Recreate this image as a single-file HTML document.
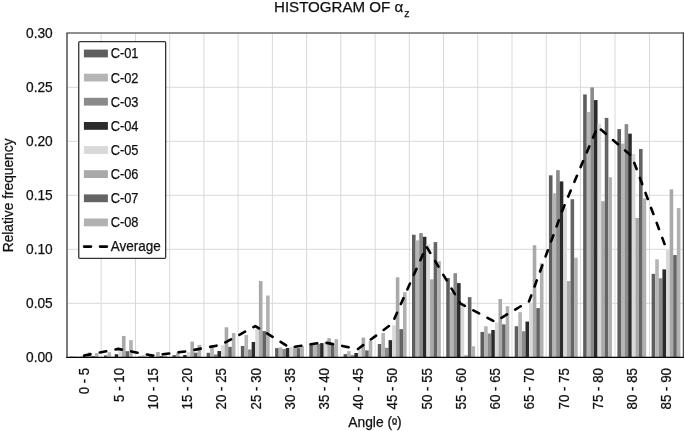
<!DOCTYPE html>
<html><head><meta charset="utf-8"><title>Histogram of alpha z</title>
<style>html,body{margin:0;padding:0;background:#fff}body{width:685px;height:431px;overflow:hidden}svg{display:block}text{font-family:"Liberation Sans",sans-serif;fill:#111;stroke:#111;stroke-width:0.25px}</style></head><body>
<svg width="685" height="431" viewBox="0 0 685 431">
<rect width="685" height="431" fill="#fff"/>
<g stroke="#d9d9d9" stroke-width="1" fill="none">
<line x1="67.0" y1="87.3" x2="683.1" y2="87.3"/>
<line x1="67.0" y1="141.3" x2="683.1" y2="141.3"/>
<line x1="67.0" y1="195.3" x2="683.1" y2="195.3"/>
<line x1="67.0" y1="249.3" x2="683.1" y2="249.3"/>
<line x1="67.0" y1="303.3" x2="683.1" y2="303.3"/>
<line x1="101.2" y1="33.0" x2="101.2" y2="357.0"/>
<line x1="135.5" y1="33.0" x2="135.5" y2="357.0"/>
<line x1="169.7" y1="33.0" x2="169.7" y2="357.0"/>
<line x1="203.9" y1="33.0" x2="203.9" y2="357.0"/>
<line x1="238.1" y1="33.0" x2="238.1" y2="357.0"/>
<line x1="272.4" y1="33.0" x2="272.4" y2="357.0"/>
<line x1="306.6" y1="33.0" x2="306.6" y2="357.0"/>
<line x1="340.8" y1="33.0" x2="340.8" y2="357.0"/>
<line x1="375.1" y1="33.0" x2="375.1" y2="357.0"/>
<line x1="409.3" y1="33.0" x2="409.3" y2="357.0"/>
<line x1="443.5" y1="33.0" x2="443.5" y2="357.0"/>
<line x1="477.8" y1="33.0" x2="477.8" y2="357.0"/>
<line x1="512.0" y1="33.0" x2="512.0" y2="357.0"/>
<line x1="546.2" y1="33.0" x2="546.2" y2="357.0"/>
<line x1="580.4" y1="33.0" x2="580.4" y2="357.0"/>
<line x1="615.0" y1="33.0" x2="615.0" y2="357.0"/>
<line x1="649.5" y1="33.0" x2="649.5" y2="357.0"/>
</g>
<g fill="#5e5e5e">
<rect x="69.70" y="356.57" width="3.60" height="0.43"/>
<rect x="103.93" y="355.38" width="3.60" height="1.62"/>
<rect x="138.16" y="356.46" width="3.60" height="0.54"/>
<rect x="172.39" y="355.16" width="3.60" height="1.84"/>
<rect x="206.62" y="352.79" width="3.60" height="4.21"/>
<rect x="240.85" y="345.98" width="3.60" height="11.02"/>
<rect x="275.08" y="348.14" width="3.60" height="8.86"/>
<rect x="309.31" y="343.39" width="3.60" height="13.61"/>
<rect x="343.54" y="354.08" width="3.60" height="2.92"/>
<rect x="377.77" y="344.04" width="3.60" height="12.96"/>
<rect x="412.00" y="234.74" width="3.60" height="122.26"/>
<rect x="446.23" y="278.05" width="3.60" height="78.95"/>
<rect x="480.46" y="331.94" width="3.60" height="25.06"/>
<rect x="514.69" y="326.22" width="3.60" height="30.78"/>
<rect x="548.92" y="175.34" width="3.60" height="181.66"/>
<rect x="583.15" y="94.45" width="3.60" height="262.55"/>
<rect x="617.38" y="129.12" width="3.60" height="227.88"/>
<rect x="651.61" y="273.84" width="3.60" height="83.16"/>
</g>
<g fill="#b5b5b5">
<rect x="73.31" y="356.46" width="3.60" height="0.54"/>
<rect x="107.54" y="352.25" width="3.60" height="4.75"/>
<rect x="141.77" y="355.38" width="3.60" height="1.62"/>
<rect x="176.00" y="352.68" width="3.60" height="4.32"/>
<rect x="210.23" y="347.50" width="3.60" height="9.50"/>
<rect x="244.46" y="334.97" width="3.60" height="22.03"/>
<rect x="278.69" y="347.39" width="3.60" height="9.61"/>
<rect x="312.92" y="344.47" width="3.60" height="12.53"/>
<rect x="347.15" y="351.17" width="3.60" height="5.83"/>
<rect x="381.38" y="333.02" width="3.60" height="23.98"/>
<rect x="415.61" y="240.36" width="3.60" height="116.64"/>
<rect x="449.84" y="292.20" width="3.60" height="64.80"/>
<rect x="484.07" y="326.22" width="3.60" height="30.78"/>
<rect x="518.30" y="312.18" width="3.60" height="44.82"/>
<rect x="552.53" y="193.27" width="3.60" height="163.73"/>
<rect x="586.76" y="112.06" width="3.60" height="244.94"/>
<rect x="620.99" y="143.59" width="3.60" height="213.41"/>
<rect x="655.22" y="259.26" width="3.60" height="97.74"/>
</g>
<g fill="#8a8a8a">
<rect x="76.91" y="356.78" width="3.60" height="0.22"/>
<rect x="111.14" y="356.78" width="3.60" height="0.22"/>
<rect x="145.37" y="356.68" width="3.60" height="0.32"/>
<rect x="179.60" y="356.68" width="3.60" height="0.32"/>
<rect x="213.83" y="354.41" width="3.60" height="2.59"/>
<rect x="248.06" y="349.44" width="3.60" height="7.56"/>
<rect x="282.29" y="349.01" width="3.60" height="7.99"/>
<rect x="316.52" y="343.93" width="3.60" height="13.07"/>
<rect x="350.75" y="355.06" width="3.60" height="1.94"/>
<rect x="384.98" y="347.82" width="3.60" height="9.18"/>
<rect x="419.21" y="233.12" width="3.60" height="123.88"/>
<rect x="453.44" y="273.19" width="3.60" height="83.81"/>
<rect x="487.67" y="333.56" width="3.60" height="23.44"/>
<rect x="521.90" y="331.19" width="3.60" height="25.81"/>
<rect x="556.13" y="170.16" width="3.60" height="186.84"/>
<rect x="590.36" y="87.43" width="3.60" height="269.57"/>
<rect x="624.59" y="124.15" width="3.60" height="232.85"/>
<rect x="658.82" y="278.27" width="3.60" height="78.73"/>
</g>
<g fill="#2b2b2b">
<rect x="80.51" y="356.68" width="3.60" height="0.32"/>
<rect x="114.74" y="354.19" width="3.60" height="2.81"/>
<rect x="148.97" y="356.46" width="3.60" height="0.54"/>
<rect x="183.20" y="355.06" width="3.60" height="1.94"/>
<rect x="217.43" y="351.06" width="3.60" height="5.94"/>
<rect x="251.66" y="341.99" width="3.60" height="15.01"/>
<rect x="285.89" y="347.93" width="3.60" height="9.07"/>
<rect x="320.12" y="343.07" width="3.60" height="13.93"/>
<rect x="354.35" y="353.00" width="3.60" height="4.00"/>
<rect x="388.58" y="340.15" width="3.60" height="16.85"/>
<rect x="422.81" y="236.80" width="3.60" height="120.20"/>
<rect x="457.04" y="283.13" width="3.60" height="73.87"/>
<rect x="491.27" y="330.00" width="3.60" height="27.00"/>
<rect x="525.50" y="321.58" width="3.60" height="35.42"/>
<rect x="559.73" y="181.39" width="3.60" height="175.61"/>
<rect x="593.96" y="100.07" width="3.60" height="256.93"/>
<rect x="628.19" y="133.66" width="3.60" height="223.34"/>
<rect x="662.42" y="269.41" width="3.60" height="87.59"/>
</g>
<g fill="#d9d9d9">
<rect x="84.11" y="356.68" width="3.60" height="0.32"/>
<rect x="118.34" y="351.17" width="3.60" height="5.83"/>
<rect x="152.57" y="356.14" width="3.60" height="0.86"/>
<rect x="186.80" y="352.03" width="3.60" height="4.97"/>
<rect x="221.03" y="345.23" width="3.60" height="11.77"/>
<rect x="255.26" y="328.60" width="3.60" height="28.40"/>
<rect x="289.50" y="347.06" width="3.60" height="9.94"/>
<rect x="323.73" y="342.42" width="3.60" height="14.58"/>
<rect x="357.95" y="349.44" width="3.60" height="7.56"/>
<rect x="392.19" y="325.25" width="3.60" height="31.75"/>
<rect x="426.41" y="244.25" width="3.60" height="112.75"/>
<rect x="460.64" y="304.08" width="3.60" height="52.92"/>
<rect x="494.88" y="322.44" width="3.60" height="34.56"/>
<rect x="529.11" y="303.00" width="3.60" height="54.00"/>
<rect x="563.34" y="207.64" width="3.60" height="149.36"/>
<rect x="597.56" y="123.72" width="3.60" height="233.28"/>
<rect x="631.79" y="153.96" width="3.60" height="203.04"/>
<rect x="666.02" y="250.19" width="3.60" height="106.81"/>
</g>
<g fill="#a9a9a9">
<rect x="87.72" y="352.46" width="3.60" height="4.54"/>
<rect x="121.95" y="335.94" width="3.60" height="21.06"/>
<rect x="156.18" y="352.03" width="3.60" height="4.97"/>
<rect x="190.41" y="341.56" width="3.60" height="15.44"/>
<rect x="224.64" y="327.30" width="3.60" height="29.70"/>
<rect x="258.87" y="281.08" width="3.60" height="75.92"/>
<rect x="293.10" y="346.09" width="3.60" height="10.91"/>
<rect x="327.33" y="338.21" width="3.60" height="18.79"/>
<rect x="361.56" y="337.56" width="3.60" height="19.44"/>
<rect x="395.79" y="277.30" width="3.60" height="79.70"/>
<rect x="430.02" y="279.35" width="3.60" height="77.65"/>
<rect x="464.25" y="355.16" width="3.60" height="1.84"/>
<rect x="498.48" y="299.00" width="3.60" height="58.00"/>
<rect x="532.71" y="245.22" width="3.60" height="111.78"/>
<rect x="566.94" y="281.08" width="3.60" height="75.92"/>
<rect x="601.17" y="201.16" width="3.60" height="155.84"/>
<rect x="635.40" y="218.00" width="3.60" height="139.00"/>
<rect x="669.63" y="189.38" width="3.60" height="167.62"/>
</g>
<g fill="#646464">
<rect x="91.32" y="356.03" width="3.60" height="0.97"/>
<rect x="125.55" y="351.17" width="3.60" height="5.83"/>
<rect x="159.78" y="355.92" width="3.60" height="1.08"/>
<rect x="194.01" y="352.68" width="3.60" height="4.32"/>
<rect x="228.24" y="346.85" width="3.60" height="10.15"/>
<rect x="262.47" y="331.08" width="3.60" height="25.92"/>
<rect x="296.70" y="348.14" width="3.60" height="8.86"/>
<rect x="330.93" y="343.93" width="3.60" height="13.07"/>
<rect x="365.16" y="350.41" width="3.60" height="6.59"/>
<rect x="399.39" y="329.14" width="3.60" height="27.86"/>
<rect x="433.62" y="242.09" width="3.60" height="114.91"/>
<rect x="467.85" y="297.17" width="3.60" height="59.83"/>
<rect x="502.08" y="324.38" width="3.60" height="32.62"/>
<rect x="536.31" y="308.08" width="3.60" height="48.92"/>
<rect x="570.54" y="199.21" width="3.60" height="157.79"/>
<rect x="604.77" y="117.89" width="3.60" height="239.11"/>
<rect x="639.00" y="148.99" width="3.60" height="208.01"/>
<rect x="673.23" y="255.05" width="3.60" height="101.95"/>
</g>
<g fill="#b1b1b1">
<rect x="94.92" y="353.11" width="3.60" height="3.89"/>
<rect x="129.15" y="340.15" width="3.60" height="16.85"/>
<rect x="163.38" y="355.38" width="3.60" height="1.62"/>
<rect x="197.61" y="344.90" width="3.60" height="12.10"/>
<rect x="231.84" y="333.02" width="3.60" height="23.98"/>
<rect x="266.07" y="295.55" width="3.60" height="61.45"/>
<rect x="300.30" y="346.09" width="3.60" height="10.91"/>
<rect x="334.53" y="339.18" width="3.60" height="17.82"/>
<rect x="368.76" y="340.91" width="3.60" height="16.09"/>
<rect x="402.99" y="292.20" width="3.60" height="64.80"/>
<rect x="437.22" y="261.20" width="3.60" height="95.80"/>
<rect x="471.45" y="346.31" width="3.60" height="10.69"/>
<rect x="505.68" y="306.24" width="3.60" height="50.76"/>
<rect x="539.91" y="263.26" width="3.60" height="93.74"/>
<rect x="574.14" y="257.75" width="3.60" height="99.25"/>
<rect x="608.37" y="177.29" width="3.60" height="179.71"/>
<rect x="642.60" y="198.35" width="3.60" height="158.65"/>
<rect x="676.83" y="208.07" width="3.60" height="148.93"/>
</g>
<polyline points="84.1,355.6 118.3,348.9 152.6,355.6 186.8,351.3 221.0,344.8 255.3,326.1 289.5,347.5 323.7,342.3 358.0,349.0 392.2,323.6 426.4,246.5 460.6,303.7 494.9,321.7 529.1,301.3 563.3,208.2 597.6,126.8 631.8,156.2 666.0,247.9" fill="none" stroke="#000" stroke-width="2.6" stroke-dasharray="6.5 9.5" stroke-linecap="round" stroke-linejoin="round"/>
<line x1="66.4" y1="33.0" x2="683.7" y2="33.0" stroke="#6a6a6a" stroke-width="1.4"/>
<line x1="67.0" y1="33.0" x2="67.0" y2="357.8" stroke="#444" stroke-width="1.4"/>
<line x1="683.34" y1="32.4" x2="683.34" y2="357.8" stroke="#3a3a3a" stroke-width="1.2"/>
<line x1="66.3" y1="357.3" x2="683.8" y2="357.3" stroke="#000" stroke-width="1.25"/>
<rect x="78.75" y="41.6" width="86.9" height="216.7" rx="1" fill="#fff" stroke="#333" stroke-width="1.3"/>
<rect x="83.9" y="49.6" width="24" height="7.8" fill="#5e5e5e"/>
<text x="110.7" y="58.4" font-size="14.2" textLength="27.8" lengthAdjust="spacingAndGlyphs">C-01</text>
<rect x="83.9" y="73.7" width="24" height="7.8" fill="#b5b5b5"/>
<text x="110.7" y="82.5" font-size="14.2" textLength="27.8" lengthAdjust="spacingAndGlyphs">C-02</text>
<rect x="83.9" y="97.8" width="24" height="7.8" fill="#8a8a8a"/>
<text x="110.7" y="106.6" font-size="14.2" textLength="27.8" lengthAdjust="spacingAndGlyphs">C-03</text>
<rect x="83.9" y="122.0" width="24" height="7.8" fill="#2b2b2b"/>
<text x="110.7" y="130.8" font-size="14.2" textLength="27.8" lengthAdjust="spacingAndGlyphs">C-04</text>
<rect x="83.9" y="146.1" width="24" height="7.8" fill="#d9d9d9"/>
<text x="110.7" y="154.9" font-size="14.2" textLength="27.8" lengthAdjust="spacingAndGlyphs">C-05</text>
<rect x="83.9" y="170.2" width="24" height="7.8" fill="#a9a9a9"/>
<text x="110.7" y="179.1" font-size="14.2" textLength="27.8" lengthAdjust="spacingAndGlyphs">C-06</text>
<rect x="83.9" y="194.4" width="24" height="7.8" fill="#646464"/>
<text x="110.7" y="203.2" font-size="14.2" textLength="27.8" lengthAdjust="spacingAndGlyphs">C-07</text>
<rect x="83.9" y="218.5" width="24" height="7.8" fill="#b1b1b1"/>
<text x="110.7" y="227.3" font-size="14.2" textLength="27.8" lengthAdjust="spacingAndGlyphs">C-08</text>
<line x1="84.1" y1="246.6" x2="108" y2="246.6" stroke="#000" stroke-width="2.6" stroke-dasharray="6.9 9" stroke-linecap="round"/>
<text x="110.8" y="251.2" font-size="14.2" textLength="49.9" lengthAdjust="spacingAndGlyphs">Average</text>
<text x="52.7" y="38.2" font-size="14.2" text-anchor="end" textLength="26.7" lengthAdjust="spacingAndGlyphs">0.30</text>
<text x="52.7" y="92.2" font-size="14.2" text-anchor="end" textLength="26.7" lengthAdjust="spacingAndGlyphs">0.25</text>
<text x="52.7" y="146.2" font-size="14.2" text-anchor="end" textLength="26.7" lengthAdjust="spacingAndGlyphs">0.20</text>
<text x="52.7" y="200.2" font-size="14.2" text-anchor="end" textLength="26.7" lengthAdjust="spacingAndGlyphs">0.15</text>
<text x="52.7" y="254.2" font-size="14.2" text-anchor="end" textLength="26.7" lengthAdjust="spacingAndGlyphs">0.10</text>
<text x="52.7" y="308.2" font-size="14.2" text-anchor="end" textLength="26.7" lengthAdjust="spacingAndGlyphs">0.05</text>
<text x="52.7" y="362.2" font-size="14.2" text-anchor="end" textLength="26.7" lengthAdjust="spacingAndGlyphs">0.00</text>
<text transform="translate(89.3,368) rotate(-90)" font-size="14.2" text-anchor="end" textLength="26.3" lengthAdjust="spacingAndGlyphs">0 - 5</text>
<text transform="translate(123.5,368) rotate(-90)" font-size="14.2" text-anchor="end" textLength="33.9" lengthAdjust="spacingAndGlyphs">5 - 10</text>
<text transform="translate(157.8,368) rotate(-90)" font-size="14.2" text-anchor="end" textLength="41.5" lengthAdjust="spacingAndGlyphs">10 - 15</text>
<text transform="translate(192.0,368) rotate(-90)" font-size="14.2" text-anchor="end" textLength="41.5" lengthAdjust="spacingAndGlyphs">15 - 20</text>
<text transform="translate(226.2,368) rotate(-90)" font-size="14.2" text-anchor="end" textLength="41.5" lengthAdjust="spacingAndGlyphs">20 - 25</text>
<text transform="translate(260.5,368) rotate(-90)" font-size="14.2" text-anchor="end" textLength="41.5" lengthAdjust="spacingAndGlyphs">25 - 30</text>
<text transform="translate(294.7,368) rotate(-90)" font-size="14.2" text-anchor="end" textLength="41.5" lengthAdjust="spacingAndGlyphs">30 - 35</text>
<text transform="translate(328.9,368) rotate(-90)" font-size="14.2" text-anchor="end" textLength="41.5" lengthAdjust="spacingAndGlyphs">35 - 40</text>
<text transform="translate(363.2,368) rotate(-90)" font-size="14.2" text-anchor="end" textLength="41.5" lengthAdjust="spacingAndGlyphs">40 - 45</text>
<text transform="translate(397.4,368) rotate(-90)" font-size="14.2" text-anchor="end" textLength="41.5" lengthAdjust="spacingAndGlyphs">45 - 50</text>
<text transform="translate(431.6,368) rotate(-90)" font-size="14.2" text-anchor="end" textLength="41.5" lengthAdjust="spacingAndGlyphs">50 - 55</text>
<text transform="translate(465.8,368) rotate(-90)" font-size="14.2" text-anchor="end" textLength="41.5" lengthAdjust="spacingAndGlyphs">55 - 60</text>
<text transform="translate(500.1,368) rotate(-90)" font-size="14.2" text-anchor="end" textLength="41.5" lengthAdjust="spacingAndGlyphs">60 - 65</text>
<text transform="translate(534.3,368) rotate(-90)" font-size="14.2" text-anchor="end" textLength="41.5" lengthAdjust="spacingAndGlyphs">65 - 70</text>
<text transform="translate(568.5,368) rotate(-90)" font-size="14.2" text-anchor="end" textLength="41.5" lengthAdjust="spacingAndGlyphs">70 - 75</text>
<text transform="translate(602.8,368) rotate(-90)" font-size="14.2" text-anchor="end" textLength="41.5" lengthAdjust="spacingAndGlyphs">75 - 80</text>
<text transform="translate(637.0,368) rotate(-90)" font-size="14.2" text-anchor="end" textLength="41.5" lengthAdjust="spacingAndGlyphs">80 - 85</text>
<text transform="translate(671.2,368) rotate(-90)" font-size="14.2" text-anchor="end" textLength="41.5" lengthAdjust="spacingAndGlyphs">85 - 90</text>
<text transform="translate(12.6,195.4) rotate(-90)" font-size="14.2" text-anchor="middle" textLength="113.8" lengthAdjust="spacingAndGlyphs">Relative frequency</text>
<text x="375" y="427" font-size="14.2" text-anchor="middle" textLength="53.4" lengthAdjust="spacingAndGlyphs">Angle (<tspan dy="1.8">º</tspan><tspan dy="-1.8">)</tspan></text>
<line x1="392.7" y1="424.3" x2="396.7" y2="424.3" stroke="#111" stroke-width="0.9"/>
<text x="274" y="12.3" font-size="14.9" textLength="129.2" lengthAdjust="spacingAndGlyphs">HISTOGRAM OF α</text>
<text x="404.3" y="16.9" font-size="10.6">z</text>
</svg></body></html>
